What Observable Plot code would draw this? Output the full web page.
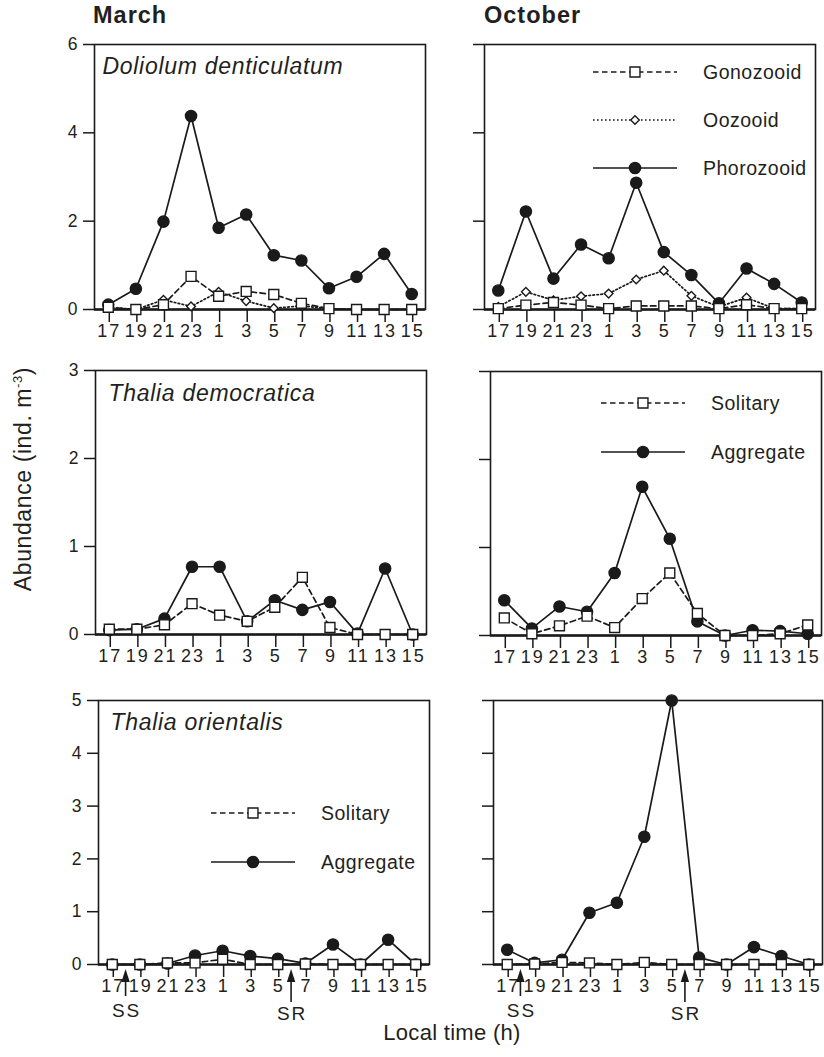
<!DOCTYPE html>
<html>
<head>
<meta charset="utf-8">
<script src="https://cdn.jsdelivr.net/npm/d3@7"></script>
<script src="https://cdn.jsdelivr.net/npm/@observablehq/plot@0.6"></script>
<style>
html, body { margin: 0; padding: 0; background: #fff; }
#fig { position: relative; width: 824px; height: 1057px; overflow: hidden; background: #fff;
  font-family: "Liberation Sans", Arial, Helvetica, sans-serif; color: #231f20; }
.panel { position: absolute; }
.panel svg { max-width: none !important; }
#overlay { position: absolute; left: 0; top: 0; pointer-events: none; }
</style>
</head>
<body>
<div id="fig"></div>
<script>
// ---------------- data ----------------
const times = [17, 19, 21, 23, 1, 3, 5, 7, 9, 11, 13, 15];

// March, Doliolum denticulatum
const marchDolGono  = [0.05, 0.00, 0.11, 0.75, 0.30, 0.41, 0.34, 0.14, 0.02, 0.00, 0.00, 0.00];
const marchDolOozo  = [0.05, 0.00, 0.22, 0.07, 0.40, 0.19, 0.03, 0.08, 0.02, 0.00, 0.00, 0.00];
const marchDolPhoro = [0.11, 0.47, 1.99, 4.38, 1.85, 2.15, 1.23, 1.11, 0.48, 0.74, 1.26, 0.35];
// October, Doliolum denticulatum
const octDolGono    = [0.02, 0.10, 0.16, 0.10, 0.02, 0.08, 0.08, 0.08, 0.02, 0.11, 0.02, 0.02];
const octDolOozo    = [0.06, 0.40, 0.21, 0.30, 0.36, 0.68, 0.88, 0.31, 0.06, 0.27, 0.02, 0.02];
const octDolPhoro   = [0.43, 2.22, 0.70, 1.47, 1.16, 2.87, 1.30, 0.78, 0.14, 0.93, 0.58, 0.16];
// March, Thalia democratica
const marchTdSol    = [0.06, 0.06, 0.11, 0.35, 0.22, 0.15, 0.31, 0.65, 0.08, 0.00, 0.00, 0.00];
const marchTdAgg    = [0.05, 0.06, 0.18, 0.77, 0.77, 0.15, 0.39, 0.28, 0.37, 0.01, 0.75, 0.00];
// October, Thalia democratica
const octTdSol      = [0.20, 0.02, 0.11, 0.22, 0.09, 0.42, 0.71, 0.25, 0.00, 0.00, 0.02, 0.12];
const octTdAgg      = [0.40, 0.08, 0.33, 0.27, 0.71, 1.69, 1.10, 0.16, 0.00, 0.06, 0.05, 0.02];
// March, Thalia orientalis
const marchToSol    = [0.00, 0.00, 0.03, 0.03, 0.10, 0.00, 0.00, 0.01, 0.00, 0.00, 0.00, 0.00];
const marchToAgg    = [0.00, 0.00, 0.02, 0.17, 0.26, 0.16, 0.11, 0.02, 0.38, 0.00, 0.47, 0.00];
// October, Thalia orientalis
const octToSol      = [0.00, 0.01, 0.04, 0.03, 0.00, 0.04, 0.00, 0.00, 0.00, 0.00, 0.00, 0.00];
const octToAgg      = [0.28, 0.03, 0.09, 0.98, 1.17, 2.42, 5.00, 0.13, 0.00, 0.33, 0.16, 0.00];

// sunset / sunrise (local hour)
const sunEvents = [{label: "SS", time: 18}, {label: "SR", time: 6}];

const colTitles = ["March", "October"];
const species = ["Doliolum denticulatum", "Thalia democratica", "Thalia orientalis"];
const dolStages = ["Gonozooid", "Oozooid", "Phorozooid"];
const thaliaStages = ["Solitary", "Aggregate"];

// ---------------- styles ----------------
const INK = "#1a1a1a";
const TXT = "#231f20";
const FONT = '"Liberation Sans", Arial, Helvetica, sans-serif';
const sty = {
  dashed: {dash: "5.5,3.5", symbol: "square",   r: 5.6, fill: "white"},
  dotted: {dash: "1.6,2.4", symbol: "diamond2", r: 3.9, fill: "white"},
  solid:  {dash: null,      symbol: "circle",   r: 5.6, fill: INK}
};
const symFn = {square: d3.symbolSquare, diamond2: d3.symbolDiamond2, circle: d3.symbolCircle};

const elapsed = (t) => (t - 17 + 24) % 24;   // hours since 17:00
const toData = (vals) => times.map((t, i) => ({e: elapsed(t), v: vals[i]}));

function seriesMarks(vals, s) {
  const data = toData(vals);
  return [
    Plot.line(data, {x: "e", y: "v", stroke: INK, strokeWidth: 1.7, strokeDasharray: s.dash}),
    Plot.dot(data, {x: "e", y: "v", symbol: s.symbol, r: s.r, fill: s.fill, stroke: INK, strokeWidth: 1.4})
  ];
}

function legendMark(items, ox, rows) {
  return (index, scales, values, dims) => {
    const g = d3.create("svg:g").attr("text-anchor", "start");
    const x0 = dims.marginLeft + ox;
    items.forEach((it, k) => {
      const y = dims.marginTop + rows[k];
      g.append("line").attr("x1", x0).attr("x2", x0 + 84).attr("y1", y).attr("y2", y)
        .attr("stroke", INK).attr("stroke-width", 1.7)
        .attr("stroke-dasharray", it.s.dash);
      g.append("path").attr("transform", `translate(${x0 + 42},${y})`)
        .attr("d", d3.symbol(symFn[it.s.symbol], Math.PI * it.s.r * it.s.r)())
        .attr("fill", it.s.fill).attr("stroke", INK).attr("stroke-width", 1.4);
      g.append("text").attr("x", x0 + 110).attr("y", y).attr("dy", "0.36em")
        .attr("text-anchor", "start")
        .attr("font-size", 19.5).attr("letter-spacing", 0.5).attr("fill", TXT).text(it.name);
    });
    return g.node();
  };
}

const sunMark = (index, scales, values, dims) => {
  const g = d3.create("svg:g");
  const y0 = scales.y(0);
  const geo = {SS: {stem: 32, base: 53}, SR: {stem: 38, base: 56}};
  for (const ev of sunEvents) {
    const x = scales.x(elapsed(ev.time));
    const o = geo[ev.label];
    g.append("line").attr("x1", x).attr("x2", x).attr("y1", y0 + 15).attr("y2", y0 + o.stem)
      .attr("stroke", INK).attr("stroke-width", 1.6);
    g.append("path")
      .attr("d", `M${x},${y0 + 5}L${x + 4.2},${y0 + 18}L${x - 4.2},${y0 + 18}Z`)
      .attr("fill", INK);
    g.append("text").attr("x", x + 1).attr("y", y0 + o.base).attr("text-anchor", "middle")
      .attr("font-size", 19).attr("letter-spacing", 2).attr("fill", TXT).text(ev.label);
  }
  return g.node();
};

// ---------------- panels ----------------
const FW = 331;
const M = {left: 62, right: 12, top: 12, bottom: 75};

const panels = [
  {fl: 94,  ft: 44,  h: 265, ymax: 6, yticks: [0, 2, 4, 6], labels: true,
   sp: species[0], spX: 8, spY: 29,
   series: [[marchDolPhoro, sty.solid], [marchDolOozo, sty.dotted], [marchDolGono, sty.dashed]]},
  {fl: 484, ft: 44,  h: 265, ymax: 6, yticks: [0, 2, 4, 6], labels: false,
   series: [[octDolPhoro, sty.solid], [octDolOozo, sty.dotted], [octDolGono, sty.dashed]],
   legend: {items: [{name: dolStages[0], s: sty.dashed}, {name: dolStages[1], s: sty.dotted}, {name: dolStages[2], s: sty.solid}],
            ox: 109, rows: [28, 76, 124]}},
  {fl: 95,  ft: 370, h: 264, ymax: 3, yticks: [0, 1, 2, 3], labels: true,
   sp: species[1], spX: 13, spY: 30,
   series: [[marchTdAgg, sty.solid], [marchTdSol, sty.dashed]]},
  {fl: 490, ft: 371, h: 264, ymax: 3, yticks: [0, 1, 2, 3], labels: false,
   series: [[octTdAgg, sty.solid], [octTdSol, sty.dashed]],
   legend: {items: [{name: thaliaStages[0], s: sty.dashed}, {name: thaliaStages[1], s: sty.solid}],
            ox: 111, rows: [32, 81]}},
  {fl: 98,  ft: 700, h: 264, ymax: 5, yticks: [0, 1, 2, 3, 4, 5], labels: true,
   sp: species[2], spX: 12, spY: 29, sun: true,
   series: [[marchToAgg, sty.solid], [marchToSol, sty.dashed]],
   legend: {items: [{name: thaliaStages[0], s: sty.dashed}, {name: thaliaStages[1], s: sty.solid}],
            ox: 113, rows: [113, 162]}},
  {fl: 493, ft: 700, h: 264, ymax: 5, yticks: [0, 1, 2, 3, 4, 5], labels: false, sun: true, fw: 329,
   series: [[octToAgg, sty.solid], [octToSol, sty.dashed]]}
];

const fig = document.getElementById("fig");
const XLS = 2.0; // letter spacing of x tick labels

for (const p of panels) {
  const fw = p.fw || FW;
  const marks = [
    Plot.axisY({ticks: p.yticks, tickSize: 11, tickPadding: 6, label: null, strokeWidth: 1.5,
                tickFormat: p.labels ? (d) => String(d) : () => "", fontSize: 17.5, fill: TXT}),
    Plot.axisX({ticks: d3.range(0, 23, 2), tickSize: 13, tickPadding: 2, label: null, strokeWidth: 1.5,
                tickFormat: (d) => String((17 + d) % 24), fontSize: 18, fill: TXT, dx: XLS / 2}),
    Plot.frame({stroke: INK, strokeWidth: 1.6}),
    Plot.ruleY([0], {stroke: INK, strokeWidth: 2.3})
  ];
  for (const [vals, s] of p.series) marks.push(...seriesMarks(vals, s));
  if (p.sp) marks.push(Plot.text([p.sp], {frameAnchor: "top-left", dx: p.spX, dy: p.spY, lineAnchor: "bottom",
    textAnchor: "start", fontSize: 23, fontStyle: "italic", fill: TXT, text: (d) => d}));
  if (p.legend) marks.push(legendMark(p.legend.items, p.legend.ox, p.legend.rows));
  if (p.sun) marks.push(sunMark);

  const W = M.left + fw + M.right, H = M.top + p.h + M.bottom;
  const chart = Plot.plot({
    width: W,
    height: H,
    marginLeft: M.left, marginRight: M.right, marginTop: M.top, marginBottom: M.bottom,
    x: {type: "linear", domain: [-1, 23]},
    y: {type: "linear", domain: [0, p.ymax]},
    style: {fontFamily: FONT, fontSize: "17.5px", color: INK, background: "transparent",
            overflow: "visible", maxWidth: "none", width: W + "px", height: H + "px"},
    marks
  });
  d3.select(chart).selectAll('g[aria-label="x-axis tick label"] text').attr("letter-spacing", XLS);
  d3.select(chart).selectAll('g[aria-label="text"] text').attr("letter-spacing", 0.7);
  const wrap = document.createElement("div");
  wrap.className = "panel";
  wrap.style.left = (p.fl - M.left) + "px";
  wrap.style.top = (p.ft - M.top) + "px";
  wrap.style.width = W + "px";
  wrap.style.height = H + "px";
  wrap.appendChild(chart);
  fig.appendChild(wrap);
}

// ---------------- titles overlay ----------------
const ov = d3.select(fig).append("svg").attr("id", "overlay").attr("width", 824).attr("height", 1057)
  .style("font-family", FONT).attr("fill", TXT);
ov.append("text").attr("x", 93).attr("y", 23).attr("font-size", 23.5).attr("font-weight", "bold")
  .attr("letter-spacing", 1).text(colTitles[0]);
ov.append("text").attr("x", 484).attr("y", 23).attr("font-size", 23.5).attr("font-weight", "bold")
  .attr("letter-spacing", 1).text(colTitles[1]);
ov.append("text").attr("x", 452).attr("y", 1040).attr("text-anchor", "middle").attr("font-size", 22)
  .attr("letter-spacing", 0.3).text("Local time (h)");
const yt = ov.append("text").attr("transform", "translate(31,479) rotate(-90)").attr("text-anchor", "middle")
  .attr("font-size", 23).attr("letter-spacing", 0.6);
yt.append("tspan").text("Abundance (ind. m");
yt.append("tspan").attr("font-size", 13).attr("dy", -9).text("-3");
yt.append("tspan").attr("dy", 9).text(")");
</script>
</body>
</html>
